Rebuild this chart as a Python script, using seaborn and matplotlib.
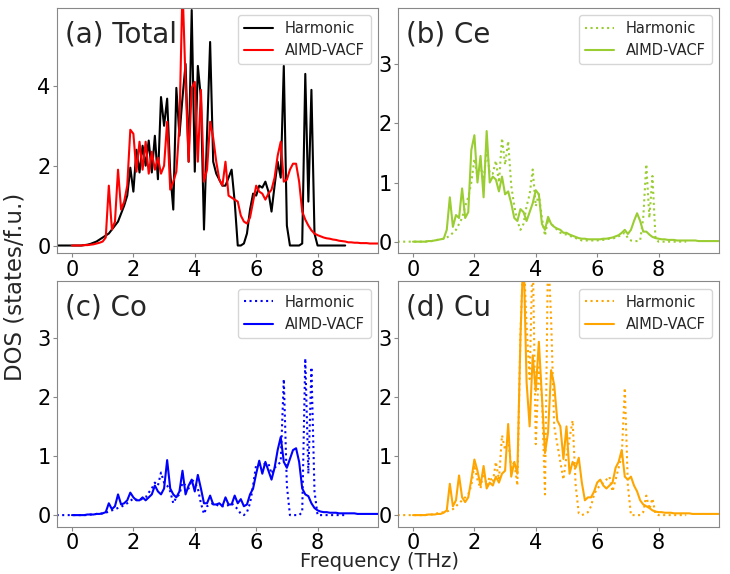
import numpy as np
import pandas as pd
import matplotlib
matplotlib.use('Agg')
import matplotlib.pyplot as plt
import seaborn as sns

# frequency grids (THz)
freq_harm = np.round(np.arange(-0.5, 8.95, 0.1), 1)
freq_md = np.round(np.arange(0.0, 10.05, 0.1), 1)

# ---- Total ----
total_harm = [0, 0, 0, 0, 0,
              0, 0, 0, 0, 0.01, 0.02, 0.04, 0.07, 0.1, 0.15,
              0.2, 0.25, 0.3, 0.4, 0.5, 0.6, 0.8, 1.0, 1.25, 1.95,
              1.35, 2.4, 1.83, 2.5, 2.0, 2.63, 1.83, 2.75, 1.66, 3.72,
              3.0, 3.68, 1.83, 0.9, 3.95, 2.75, 3.7, 4.55, 2.1, 5.9,
              1.85, 4.5, 3.7, 0.4, 2.8, 5.1, 2.1, 1.8, 1.65, 1.5,
              1.5, 1.7, 1.9, 1.1, 0.0, 0.0, 0.05, 0.3, 0.9, 1.3,
              1.25, 1.5, 1.45, 1.6, 1.35, 0.85, 1.5, 2.1, 1.7, 4.5,
              0.5, 0.0, 0.0, 0.0, 0.0, 0.05, 4.3, 1.1, 3.9, 0.3,
              0, 0, 0, 0, 0, 0, 0, 0, 0, 0]
total_md = [0, 0, 0, 0, 0.01, 0.01, 0.02, 0.03, 0.05, 0.07,
            0.1, 0.2, 1.5, 0.4, 0.6, 1.9, 0.9, 1.1, 1.5, 2.9,
            2.8, 1.85, 2.6, 1.9, 2.6, 1.8, 2.35, 1.9, 2.2, 1.8,
            2.0, 3.1, 1.4, 1.6, 1.85, 3.0, 6.5, 4.1, 2.1, 3.95,
            4.1, 2.1, 3.9, 1.6, 1.9, 3.1, 2.7, 2.1, 1.65, 1.5,
            2.1, 1.25, 1.2, 1.15, 1.1, 0.75, 0.6, 0.55, 0.7, 1.1,
            1.5, 1.35, 1.3, 1.15, 1.3, 1.4, 1.7, 2.25, 2.6, 1.6,
            1.65, 1.9, 2.05, 2.05, 1.6, 0.85, 0.65, 0.5, 0.38, 0.3,
            0.26, 0.23, 0.2, 0.18, 0.17, 0.15, 0.14, 0.12, 0.11, 0.1,
            0.08, 0.08, 0.07, 0.07, 0.06, 0.06, 0.06, 0.05, 0.05, 0.05, 0.05]

# ---- Ce ----
ce_harm = [0, 0, 0, 0, 0,
           0, 0, 0, 0, 0, 0.01, 0.01, 0.02, 0.03, 0.04,
           0.05, 0.07, 0.1, 0.15, 0.2, 0.3, 0.4, 0.6, 0.75, 1.0,
           1.4, 1.1, 1.3, 1.0, 1.6, 1.15, 1.15, 1.37, 1.0, 1.75,
           1.3, 1.7, 0.95, 0.6, 0.35, 0.2, 0.3, 0.6, 0.8, 1.22,
           0.6, 0.8, 0.4, 0.1, 0.38, 0.3, 0.25, 0.2, 0.15, 0.13,
           0.12, 0.1, 0.08, 0.06, 0.04, 0.02, 0.02, 0.02, 0.02, 0.02,
           0.02, 0.03, 0.03, 0.04, 0.05, 0.05, 0.07, 0.09, 0.12, 0.15,
           0.06, 0.02, 0.01, 0.01, 0.02, 0.4, 1.31, 0.4, 1.11, 0.05,
           0, 0, 0, 0, 0, 0, 0, 0, 0, 0]
ce_md = [0, 0, 0, 0, 0, 0.01, 0.01, 0.02, 0.03, 0.04,
         0.05, 0.2, 0.75, 0.25, 0.45, 0.4, 0.9, 0.4, 0.5, 1.55,
         1.8, 1.0, 1.45, 0.75, 1.87, 1.0, 1.1, 1.05, 0.85, 1.1,
         0.8, 0.85, 0.65, 0.4, 0.35, 0.55, 0.5, 0.35, 0.5, 0.65,
         0.87, 0.8, 0.3, 0.2, 0.42, 0.3, 0.25, 0.22, 0.2, 0.15,
         0.15, 0.12, 0.1, 0.08, 0.06, 0.05, 0.05, 0.04, 0.04, 0.04,
         0.04, 0.04, 0.05, 0.05, 0.06, 0.07, 0.09, 0.11, 0.15, 0.2,
         0.13, 0.2, 0.35, 0.48, 0.35, 0.17, 0.17, 0.12, 0.08, 0.06,
         0.05, 0.04, 0.04, 0.03, 0.03, 0.03, 0.02, 0.02, 0.02, 0.02,
         0.02, 0.02, 0.02, 0.01, 0.01, 0.01, 0.01, 0.01, 0.01, 0.01, 0.01]

# ---- Co ----
co_harm = [0, 0, 0, 0, 0,
           0, 0, 0, 0, 0, 0, 0.01, 0.01, 0.02, 0.02,
           0.03, 0.04, 0.06, 0.08, 0.1, 0.12, 0.14, 0.17, 0.2, 0.24,
           0.28, 0.26, 0.25, 0.28, 0.3, 0.38, 0.45, 0.55, 0.5, 0.72,
           0.55, 0.5, 0.4, 0.2, 0.3, 0.35, 0.55, 0.5, 0.45, 0.6,
           0.55, 0.45, 0.2, 0.02, 0.15, 0.18, 0.2, 0.18, 0.15, 0.15,
           0.15, 0.17, 0.2, 0.15, 0.1, 0.02, 0.0, 0.05, 0.2, 0.5,
           0.85, 0.85, 0.85, 0.87, 0.87, 0.7, 0.8, 0.85, 0.9, 2.3,
           0.5, 0.0, 0.0, 0.0, 0.0, 0.05, 2.65, 0.7, 2.5, 0.4,
           0, 0, 0, 0, 0, 0, 0, 0, 0, 0]
co_md = [0, 0, 0, 0, 0, 0.01, 0.01, 0.01, 0.02, 0.02,
         0.03, 0.05, 0.2, 0.1, 0.15, 0.35, 0.18, 0.2, 0.25, 0.38,
         0.3, 0.25, 0.25, 0.3, 0.25, 0.3, 0.35, 0.5, 0.4, 0.35,
         0.45, 0.93, 0.45, 0.35, 0.3, 0.4, 0.75, 0.35, 0.5, 0.6,
         0.4, 0.68, 0.45, 0.2, 0.2, 0.33, 0.18, 0.18, 0.2, 0.15,
         0.3, 0.18, 0.18, 0.33, 0.2, 0.27, 0.15, 0.18, 0.35, 0.45,
         0.7, 0.92, 0.7, 0.9, 0.75, 0.6, 0.8, 1.1, 1.32, 0.9,
         0.8, 0.95, 1.1, 1.13, 0.9, 0.45, 0.35, 0.32, 0.2, 0.12,
         0.08, 0.06, 0.05, 0.05, 0.04, 0.04, 0.04, 0.03, 0.03, 0.03,
         0.03, 0.03, 0.03, 0.02, 0.02, 0.02, 0.02, 0.02, 0.02, 0.02, 0.02]

# ---- Cu ----
cu_harm = [0, 0, 0, 0, 0,
           0, 0, 0, 0, 0, 0.01, 0.01, 0.02, 0.03, 0.04,
           0.05, 0.06, 0.08, 0.1, 0.15, 0.2, 0.25, 0.3, 0.35, 0.5,
           0.85, 0.6, 0.45, 0.75, 0.5, 0.65, 0.55, 0.9, 0.6, 1.35,
           1.1, 1.3, 0.8, 0.9, 0.5, 3.05, 4.5, 3.2, 2.3, 4.5,
           1.2, 2.5, 2.0, 0.35, 4.5, 3.3, 1.5, 1.2, 0.9, 0.6,
           1.0, 1.3, 1.6, 0.5, 0.03, 0.0, 0.02, 0.05, 0.15, 0.35,
           0.45, 0.5, 0.55, 0.6, 0.65, 0.4, 0.6, 0.8, 1.0, 2.15,
           0.5, 0.0, 0.0, 0.0, 0.0, 0.05, 0.33, 0.1, 0.28, 0.02,
           0, 0, 0, 0, 0, 0, 0, 0, 0, 0]
cu_md = [0, 0, 0, 0, 0, 0.01, 0.01, 0.01, 0.02, 0.02,
         0.04, 0.08, 0.53, 0.15, 0.25, 0.67, 0.3, 0.22, 0.3, 0.6,
         0.94, 0.75, 0.5, 0.83, 0.45, 0.55, 0.5, 0.65, 0.55, 0.7,
         0.75, 1.54, 0.65, 0.9, 0.7, 3.0, 4.5, 2.25, 1.5, 2.7,
         2.1, 2.93, 2.0, 1.05, 1.4, 2.45, 2.2, 1.6, 1.5, 0.95,
         1.5, 0.7, 0.9, 0.8, 0.97, 0.55, 0.25, 0.3, 0.3, 0.4,
         0.55, 0.6, 0.5, 0.45, 0.5, 0.55, 0.8, 0.9, 1.1, 0.65,
         0.6, 0.65, 0.5, 0.4, 0.25, 0.18, 0.15, 0.12, 0.08, 0.06,
         0.05, 0.05, 0.04, 0.04, 0.04, 0.03, 0.03, 0.03, 0.03, 0.03,
         0.03, 0.02, 0.02, 0.02, 0.02, 0.02, 0.02, 0.02, 0.02, 0.02, 0.02]

panels = [
    ('(a) Total', total_harm, total_md, 'black', 'red', '-', 5.95),
    ('(b) Ce', ce_harm, ce_md, 'yellowgreen', 'yellowgreen', ':', 3.95),
    ('(c) Co', co_harm, co_md, 'blue', 'blue', ':', 3.95),
    ('(d) Cu', cu_harm, cu_md, 'orange', 'orange', ':', 3.95),
]

sns.set_style('ticks')
plt.rcParams['font.family'] = ['DejaVu Sans']
plt.rcParams['axes.edgecolor'] = '#888888'
plt.rcParams['xtick.color'] = '#888888'
plt.rcParams['ytick.color'] = '#888888'
plt.rcParams['xtick.labelcolor'] = 'black'
plt.rcParams['ytick.labelcolor'] = 'black'

fig, axs = plt.subplots(2, 2, figsize=(7.3, 5.74), dpi=100)
fig.subplots_adjust(left=0.078, right=0.985, top=0.986, bottom=0.082,
                    wspace=0.062, hspace=0.114)

for ax, (title, harm, md, c_h, c_md, ls_h, ytop) in zip(axs.flat, panels):
    df_h = pd.DataFrame({'freq': freq_harm, 'dos': harm})
    df_m = pd.DataFrame({'freq': freq_md, 'dos': md})
    sns.lineplot(data=df_h, x='freq', y='dos', ax=ax, color=c_h, linestyle=ls_h,
                 linewidth=1.5, label='Harmonic', estimator=None)
    sns.lineplot(data=df_m, x='freq', y='dos', ax=ax, color=c_md, linestyle='-',
                 linewidth=1.5, label='AIMD-VACF', estimator=None)
    ax.set_xlim(-0.49, 9.97)
    ax.set_ylim(-0.2, ytop)
    ax.set_xticks([0, 2, 4, 6, 8])
    ax.set_xlabel('')
    ax.set_ylabel('')
    ax.tick_params(labelsize=15, length=3, pad=1.5)
    ax.text(0.025, 0.95, title, transform=ax.transAxes, fontsize=20,
            ha='left', va='top')
    ax.legend(loc='upper right', fontsize=10.5, frameon=True)

fig.text(0.52, 0.005, 'Frequency (THz)', ha='center', va='bottom', fontsize=14)
fig.text(0.005, 0.5, 'DOS (states/f.u.)', ha='left', va='center',
         rotation=90, fontsize=16.5)

plt.savefig('out.png', dpi=100)
